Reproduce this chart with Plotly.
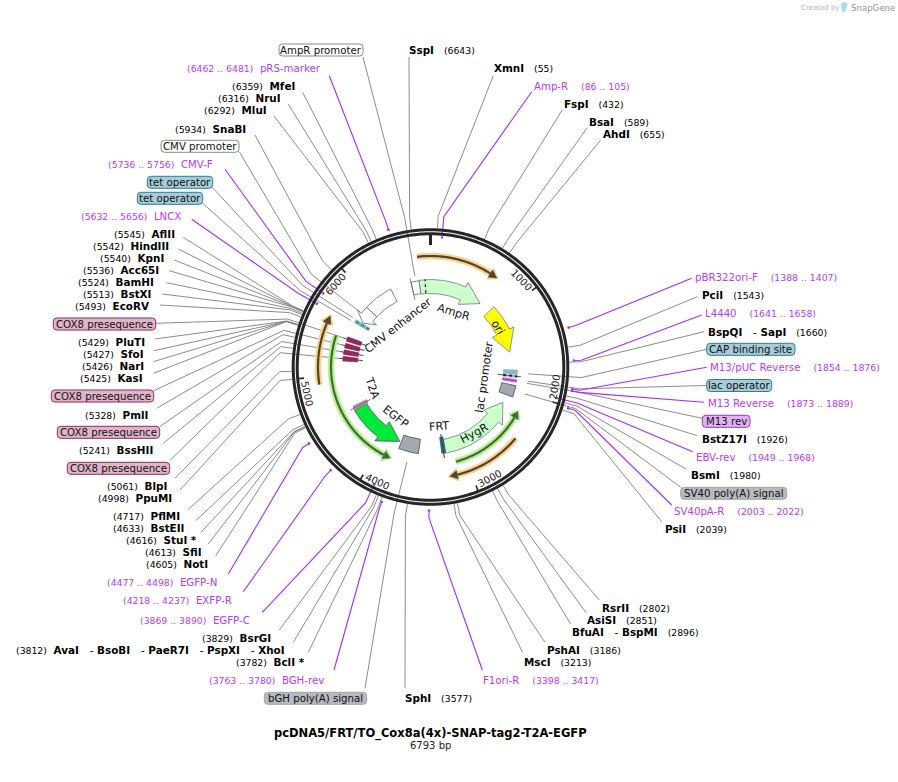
import numpy as np
import plotly.graph_objects as go

TOTAL_BP = 6793
TITLE = "pcDNA5/FRT/TO_Cox8a(4x)-SNAP-tag2-T2A-EGFP"
SUBTITLE = "6793 bp"
TICK_BP = [0, 1000, 2000, 3000, 4000, 5000, 6000]

SITE_NAMES = ["SspI", "XmnI", "FspI", "BsaI", "AhdI", "PciI", "BspQI   - SapI", "BstZ17I", "BsmI", "PsiI",
              "RsrII", "AsiSI", "BfuAI   - BspMI", "PshAI", "MscI", "SphI",
              "BclI *", "AvaI   - BsoBI   - PaeR7I   - PspXI   - XhoI", "BsrGI", "NotI", "SfiI", "StuI *",
              "BstEII", "PflMI", "PpuMI", "BlpI", "BssHII", "PmlI", "KasI", "NarI", "SfoI", "PluTI",
              "EcoRV", "BstXI", "BamHI", "Acc65I", "KpnI", "HindIII", "AflII", "SnaBI", "MluI", "NruI", "MfeI"]
SITE_BP = [6643, 55, 432, 589, 655, 1543, 1660, 1926, 1980, 2039,
           2802, 2851, 2896, 3186, 3213, 3577,
           3782, 3812, 3829, 4605, 4613, 4616,
           4633, 4717, 4998, 5061, 5241, 5328, 5425, 5426, 5427, 5429,
           5493, 5513, 5524, 5536, 5540, 5542, 5545, 5934, 6292, 6316, 6359]

PRIMER_NAMES = ["Amp-R", "pBR322ori-F", "L4440", "M13/pUC Reverse", "M13 Reverse", "EBV-rev", "SV40pA-R",
                "F1ori-R", "BGH-rev", "EGFP-C", "EXFP-R", "EGFP-N", "LNCX", "CMV-F", "pRS-marker"]
PRIMER_START = [86, 1388, 1641, 1854, 1873, 1949, 2003, 3398, 3763, 3869, 4218, 4477, 5632, 5736, 6462]
PRIMER_END = [105, 1407, 1658, 1876, 1889, 1968, 2022, 3417, 3780, 3890, 4237, 4498, 5656, 5756, 6481]
PRIMER_INSIDE = [True, False, False, False, False, True, False, False, False, True, False, False, True, True, False]

PILL_NAMES = ["AmpR promoter", "CAP binding site", "lac operator", "M13 rev", "SV40 poly(A) signal",
              "bGH poly(A) signal", "COX8 presequence", "COX8 presequence", "COX8 presequence",
              "COX8 presequence", "tet operator", "tet operator", "CMV promoter"]
PILL_BP = [6608, 1774, 1855, 1880, 2000, 3660, 5444, 5360, 5278, 5197, 5708, 5668, 5810]

ARROW_NAMES = ["AmpR", "ori", "HygR", "EGFP", "CMV enhancer", "CMV promoter"]
ARROW_START = [6651, 877, 3208, 4534, 6283, 5906]
ARROW_END = [7510, 1497, 2189, 3819, 5906, 5717]

ORF_START = [6661, 2453, 4925, 3114, 5444]
ORF_END = [7485, 3208, 5604, 2208, 3849]

COX8_BP = [5444, 5360, 5278, 5197]

# ---- page layout (pixels of the 898x782 picture), kept apart from the values above
CX, CY = 430.5, 367.0
SITE_LAYOUT = [(409, 50, 409, 57), (494, 68.3, 493.3, 75.7), (564.3, 104, 562.3, 110), (589.3, 122.3, 587.3, 127.7),
               (603.3, 134.3, 600.7, 140), (701.7, 295.3, 697.3, 296.7), (708.3, 331.7, 704, 331.7),
               (701.7, 439.3, 697.3, 435.7), (690.7, 475.3, 686, 469), (664.7, 529.3, 661.7, 521.7),
               (601.7, 608.3, 599.3, 600), (587.3, 620.3, 586, 612.7), (572.3, 632, 570.7, 624.3),
               (546.7, 650, 545, 642.3), (524.3, 662.3, 522.7, 652.7), (405, 698.3, 405, 688),
               (306, 662.3, 308.3, 652.3), (285.7, 650.3, 293.3, 642.3), (271.7, 638.3, 279.3, 630),
               (209, 564.3, 215.7, 556), (202.7, 552.3, 208.3, 544), (198.3, 540, 201, 532.3),
               (185.3, 528.3, 195.7, 520.7), (181.3, 516.3, 188.3, 509.3), (173.3, 498.3, 180, 490),
               (168.3, 486.3, 175, 478.3), (154.3, 450.3, 163.3, 443.3), (149.3, 414.7, 156.7, 408.3),
               (144.3, 378.3, 153.3, 373.3), (145.3, 366.3, 153.3, 361.7), (145.3, 354.3, 154, 350.7),
               (145.7, 342, 155, 339), (150, 306, 160, 305), (151.7, 294.3, 162.3, 294), (155, 282.3, 166.7, 282.7),
               (160, 270, 169.3, 270.7), (165, 258, 174.3, 260), (170, 246, 178.3, 249), (175.7, 234, 183.3, 237.3),
               (246.7, 128.7, 255, 135), (268, 110, 274, 116), (281.7, 98.3, 288.3, 104), (296, 86, 302.7, 92.3)]
PRIMER_LAYOUT = [(534.3, 86.3, 531.7, 91.7), (695, 277.7, 691.7, 278.3), (705, 313.7, 701.7, 315),
                 (710.3, 367.3, 706.7, 367.3), (708.3, 403, 704, 402.3), (696.7, 457.3, 692.7, 451.7),
                 (674.3, 511.3, 671.7, 505), (483.3, 680.3, 482.3, 670), (325, 680, 334, 670),
                 (251, 620.3, 262.3, 612.3), (232.7, 600.3, 243.3, 591.7), (218.3, 582.3, 228.3, 574),
                 (181.7, 216, 191.7, 219.3), (214.3, 164, 225, 169.3), (322, 68.3, 329.3, 75.7)]
PILL_LAYOUT = [(279, 363, 50, 363, 57), (706.7, 795, 349.3, 706.7, 349.3), (706.7, 771.7, 385.5, 706.7, 385.5),
               (702.3, 750, 421.3, 702.3, 418.3), (680.7, 786.7, 493.3, 680.7, 487.3), (264.3, 366.7, 698.3, 365, 688.3),
               (53.3, 155.7, 324, 156, 323.3), (51.3, 153.7, 396, 153.7, 390.7), (57.3, 159.7, 432.3, 159.7, 426.7),
               (67.3, 169.7, 468.3, 169.7, 460.7), (147.3, 212.7, 182.3, 212.7, 187.7), (137.3, 202.7, 198.3, 202.7, 203.3),
               (161, 239, 146.3, 239.3, 151.7)]
PILL_STYLE = [("#ffffff", "#8a8a8a"), ("#a6ccd8", "#2f7f93"), ("#a6ccd8", "#2f7f93"), ("#e0b4f4", "#9a30d8"),
              ("#b6babe", "#a0a4a8"), ("#b6babe", "#a0a4a8"), ("#dfb6c9", "#8e2a5c"), ("#dfb6c9", "#8e2a5c"),
              ("#dfb6c9", "#8e2a5c"), ("#dfb6c9", "#8e2a5c"), ("#a6ccd8", "#2f7f93"), ("#a6ccd8", "#2f7f93"),
              ("#ffffff", "#8a8a8a")]
INNER_TEXT = [("AmpR", 454, 312, 17), ("ori", 498, 327, 60), ("lac promoter", 484, 377, -82), ("HygR", 474, 433, -28),
              ("FRT", 438.7, 426.7, -4), ("EGFP", 395, 416.7, 38), ("T2A", 372.7, 388, 70), ("CMV enhancer", 398, 325, -38)]
ARROW_STYLE = [("#ccffcc", "#777777"), ("#ffff00", "#777777"), ("#ccffcc", "#777777"), ("#00e83a", "#555555"),
               ("#ffffff", "#666666"), ("#ffffff", "#666666")]
ARROW_HEAD = [14, 15, 13, 14.6, 0, 5]
ORF_STYLE = [("#ffd08a", "#4d4433"), ("#ffd08a", "#4d4433"), ("#ffd08a", "#4d4433"), ("#b8f08c", "#3f6b3a"), ("#b8f08c", "#3f6b3a")]
ORF_R = [111, 111, 112.5, 98, 99.5]

FONT = "DejaVu Sans"
GREY = "#7f7f7f"
PURPLE = "#a52cff"
PURPLE_TXT = "#b23cff"
NBSP = "\u00a0"


def pt(bp, r):
    t = 2 * np.pi * np.asarray(bp, dtype=float) / TOTAL_BP
    return CX + r * np.sin(t), CY - r * np.cos(t)


def arc(b0, b1, r, n=60):
    return pt(np.linspace(b0, b1, n), r)


def deg(d):
    return d / 360 * TOTAL_BP


fig = go.Figure()


def line(x, y, color, width, dash=None):
    fig.add_trace(go.Scatter(x=list(x), y=list(y), mode="lines", hoverinfo="skip", showlegend=False,
                             line=dict(color=color, width=width, dash=dash, simplify=False)))


def poly(x, y, fill, border, width=0.8):
    fig.add_trace(go.Scatter(x=list(x), y=list(y), mode="lines", fill="toself", fillcolor=fill, hoverinfo="skip",
                             showlegend=False, line=dict(color=border, width=width)))


def band(b0, b1, r0, r1):
    x0, y0 = arc(b0, b1, r0, 12)
    x1, y1 = arc(b1, b0, r1, 12)
    return list(x0) + list(x1) + [x0[0]], list(y0) + list(y1) + [y0[0]]


def arrow(b0, b1, head_deg, r0=73.5, r1=87.5, hw=12):
    s = 1 if b1 > b0 else -1
    b = b1 - s * deg(head_deg)
    xo, yo = arc(b0, b, r1, 40)
    xi, yi = arc(b, b0, r0, 40)
    rm = (r0 + r1) / 2
    hx = [pt(b, rm + hw)[0], pt(b1, rm)[0], pt(b, rm - hw)[0]]
    hy = [pt(b, rm + hw)[1], pt(b1, rm)[1], pt(b, rm - hw)[1]]
    return list(xo) + hx + list(xi) + [xo[0]], list(yo) + hy + list(yi) + [yo[0]]


# ---- leader lines
gx, gy, px, py = [], [], [], []
for bp, (_, _, lx, ly) in zip(SITE_BP, SITE_LAYOUT):
    e = pt(bp, 151)
    g = pt(bp, 139)
    gx += [lx, e[0], g[0], None]
    gy += [ly, e[1], g[1], None]
for bp, (_, _, _, lx, ly) in zip(PILL_BP, PILL_LAYOUT):
    e = pt(bp, 151)
    g = pt(bp, 92 if bp not in (1774, 1855, 1880, 2000, 3660) else 98)
    gx += [lx, e[0], g[0], None]
    gy += [ly, e[1], g[1], None]
line(gx, gy, GREY, 0.9)
for s, t, ins, (_, _, lx, ly) in zip(PRIMER_START, PRIMER_END, PRIMER_INSIDE, PRIMER_LAYOUT):
    m = (s + t) / 2
    e = pt(m, 151)
    g = pt(m, 131 if ins else 143)
    px += [lx, e[0], g[0], None]
    py += [ly, e[1], g[1], None]
line(px, py, PURPLE, 1.1)
for s, t, ins in zip(PRIMER_START, PRIMER_END, PRIMER_INSIDE):
    x, y = arc(s, t, 130 if ins else 143.5, 5)
    line(x, y, PURPLE, 2)

# ---- backbone and ticks
for r in (137.3, 133.3):
    x, y = arc(0, TOTAL_BP, r, 361)
    line(x, y, "#262626", 3)
for b in TICK_BP:
    a = pt(b, 134)
    c = pt(b, 122 if b == 0 else 127)
    line([a[0], c[0]], [a[1], c[1]], "#262626", 3 if b == 0 else 1.6)

# ---- ORF arcs
for s, t, (hi, dk), r in zip(ORF_START, ORF_END, ORF_STYLE, ORF_R):
    d = 1 if t > s else -1
    b = t - d * deg(4)
    x, y = arc(s, b, r)
    line(x, y, hi, 6.5)
    poly(*zip(pt(b, r + 6.5), pt(t + d * deg(0.8), r), pt(b, r - 6.5), pt(b, r + 6.5)), hi, hi, 1)
    line(x, y, dk, 2.2)
    poly(*zip(pt(b, r + 4.2), pt(t, r), pt(b, r - 4.2), pt(b, r + 4.2)), dk, dk, 0.5)

# ---- features
for s, t, h, (f, c) in zip(ARROW_START, ARROW_END, ARROW_HEAD, ARROW_STYLE):
    if h:
        poly(*arrow(s, t, h), f, c)
    else:
        poly(*band(s, t, 73.5, 87.5), f, c)
x, y = zip(pt(6725, 74), pt(6725, 88))
line(x, y, "#222222", 1.2, "dot")
poly(*band(6548, 6651, 74, 87), "#ffffff", "#666666")
x, y = zip(pt(6548, 69), pt(6548, 91))
line(x, y, "#666666", 0.8)
# FRT, T2A
poly(*band(3255, 3208, 71, 87), "#2f7f93", "#1f5566")
x, y = zip(pt(3232, 68), pt(3232, 92))
line(x, y, "#333333", 1)
poly(*band(4585, 4534, 72, 87), "#c896ae", "#8a6a7a")
x, y = zip(pt(4560, 68), pt(4560, 91))
line(x, y, "#555555", 0.8)
# grey terminators
poly(*band(3547, 3798, 73, 87.5), "#a2a9b1", "#4d4d4d")
poly(*band(1932, 2076, 73, 87.5), "#a2a9b1", "#4d4d4d")
# lac region
poly(*band(1736, 1793, 73, 87), "#7fbccd", "#6aaabd", 0.5)
poly(*band(1793, 1836, 73, 87), "#ffffff", "#999999", 0.5)
x, y = zip(pt(1815, 67.5), pt(1815, 91))
line(x, y, "#444444", 0.9)
x, y = zip(pt(1815, 73), pt(1815, 87))
line(x, y, "#222222", 2, "dot")
poly(*band(1859, 1887, 73, 87), "#a94bea", "#a94bea")
# tet operators
for b in (5676, 5698):
    poly(*band(b - 11, b + 11, 72, 88), "#7fbccd", "#5aa0b5", 0.4)
x, y = zip(pt(5687, 72), pt(5687, 88))
line(x, y, "#3c8ba0", 2.4, "dot")
# COX8
for b in COX8_BP:
    x, y = zip(pt(b, 68), pt(b, 92))
    line(x, y, "#333333", 0.9)
    poly(*band(b - 29, b + 29, 73, 88), "#8e2a5c", "#7a2450", 0.5)

# ---- pills
shapes = []
for (x0, x1, yc, _, _), (f, c) in zip(PILL_LAYOUT, PILL_STYLE):
    t, b, q = yc - 6, yc + 6, 3.5
    path = (f"M{x0 + q},{t} L{x1 - q},{t} Q{x1},{t} {x1},{t + q} L{x1},{b - q} Q{x1},{b} {x1 - q},{b} "
            f"L{x0 + q},{b} Q{x0},{b} {x0},{b - q} L{x0},{t + q} Q{x0},{t} {x0 + q},{t} Z")
    shapes.append(dict(type="path", path=path, fillcolor=f, line=dict(color=c, width=1), layer="above", xref="x", yref="y"))
shapes.append(dict(type="path", path="M841,3 L846,2 Q849,5 846,8 L845,12 L842,12 Z", fillcolor="#a6dcf2",
                   line=dict(width=0), layer="above", xref="x", yref="y"))

# ---- text
ann = []


def text(x, y, s, size=10, color="#000000", anchor="left", angle=0):
    ann.append(dict(x=x, y=y, xref="x", yref="y", text=s, showarrow=False, xanchor=anchor, yanchor="middle",
                    textangle=angle, borderpad=0, font=dict(family=FONT, size=size, color=color)))


def nb(s):
    return s.replace(" ", NBSP)


for name, bp, (lx, ly, _, _) in zip(SITE_NAMES, SITE_BP, SITE_LAYOUT):
    pos = f'<span style="font-size:9.3px">({bp})</span>'
    nm = nb(name).replace(NBSP + "-", NBSP + "</b>-<b>")
    if lx > 400:
        text(lx - 1, ly, f"<b>{nm}</b>{NBSP*3}{pos}", 10.4)
    else:
        text(lx, ly, f"{pos}{NBSP*2}<b>{nm}</b>", 10.4, anchor="right")
for name, s, t, (lx, ly, _, _) in zip(PRIMER_NAMES, PRIMER_START, PRIMER_END, PRIMER_LAYOUT):
    pos = f'<span style="font-size:9.3px">({s}{NBSP}..{NBSP}{t})</span>'
    if lx > 400:
        text(lx - 1.5, ly, f"{nb(name)}{NBSP*4}{pos}", 10.2, PURPLE_TXT)
    else:
        text(lx, ly, f"{pos}{NBSP*2}{nb(name)}", 10.2, PURPLE_TXT, "right")
for name, (x0, x1, yc, _, _) in zip(PILL_NAMES, PILL_LAYOUT):
    text((x0 + x1) / 2, yc, nb(name), 10.2, "#111111", "center")
for s, x, y, a in INNER_TEXT:
    text(x, y, nb(s), 11.2, "#111111", "center", a)
for b in TICK_BP[1:]:
    c = b - deg(7)
    a = c / TOTAL_BP * 360
    rot = a if a < 90 else (a - 180 if a < 270 else a - 360)
    x, y = pt(c, 126)
    text(float(x), float(y), str(b), 10, "#222222", "center", float(rot))
text(430.5, 733, f"<b>{TITLE}</b>", 11.5, "#000000", "center")
text(430.5, 745.5, SUBTITLE, 10, "#222222", "center")
text(800, 7.5, "Created by", 7, "#b4b4b4")
text(850, 7.5, "SnapGene", 8.6, "#8f969c")

fig.update_layout(width=898, height=782, margin=dict(l=0, r=0, t=0, b=0), paper_bgcolor="white", plot_bgcolor="white",
                  showlegend=False, shapes=shapes, annotations=ann,
                  xaxis=dict(range=[0, 898], visible=False, fixedrange=True),
                  yaxis=dict(range=[782, 0], visible=False, fixedrange=True))
fig.write_html("out.html", config=dict(displayModeBar=False),
               post_script="document.body.style.margin='0';document.documentElement.style.overflow='hidden';")
